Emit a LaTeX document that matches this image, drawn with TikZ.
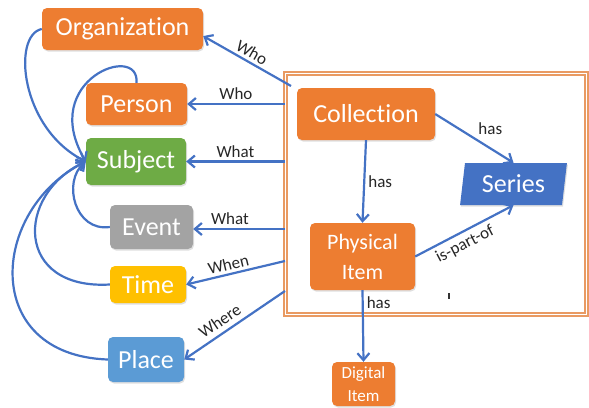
\documentclass[tikz,border=0pt]{standalone}
\usepackage{fontspec}
\setmainfont{Carlito}[Ligatures=NoCommon]
\usetikzlibrary{arrows.meta,shapes.geometric,shadows}

\definecolor{boxorange}{HTML}{ED7D31}
\definecolor{boxgreen}{HTML}{6EAB45}
\definecolor{boxgrey}{HTML}{A3A3A3}
\definecolor{boxyellow}{HTML}{FFC000}
\definecolor{boxblue}{HTML}{5B9BD5}
\definecolor{seriesblue}{HTML}{4472C4}
\definecolor{linkblue}{HTML}{4472C4}
\definecolor{frameorange}{HTML}{E99A62}

\begin{document}
\begin{tikzpicture}[x=1pt,y=-1pt,
  box/.style={rounded corners=5pt, text=white, inner sep=0pt, align=center,
    font=\fontsize{26}{30}\selectfont,
    drop shadow={opacity=0.25, shadow xshift=1pt, shadow yshift=-1.5pt}},
  link/.style={draw=linkblue, line width=2.2pt,
    -{Straight Barb[length=7pt,width=12pt]}},
  lbl/.style={font=\fontsize{17}{19}\selectfont, text=black!85, inner sep=3pt}]
\useasboundingbox (0,0) rectangle (589,407);

% frame around the collection part
\node[draw=frameorange, line width=1.6pt, double=white, double distance=1.2pt,
      minimum width=301pt, minimum height=241pt, inner sep=0pt] (frame) at (436,194) {};

% left-hand column
\node[box, fill=boxorange, minimum width=161pt, minimum height=42pt] (org) at (122.5,29) {Organization};
\node[box, fill=boxorange, minimum width=101pt, minimum height=42pt] (person) at (136.5,104) {Person};
\node[box, fill=boxgreen, minimum width=100pt, minimum height=47pt] (subject) at (136,161.5) {Subject};
\node[box, fill=boxgrey, minimum width=83pt, minimum height=44pt] (event) at (151.5,227) {Event};
\node[box, fill=boxyellow, minimum width=76pt, minimum height=37pt] (time) at (148,284.5) {Time};
\node[box, fill=boxblue, minimum width=76pt, minimum height=45pt] (place) at (146,359.5) {Place};

% collection part
\node[box, fill=boxorange, minimum width=138pt, minimum height=52pt] (collection) at (366,114) {Collection};
\node[box, rounded corners=0pt, fill=seriesblue, shape=trapezium, trapezium left angle=80,
      trapezium right angle=100, trapezium stretches=true,
      minimum width=107pt, minimum height=42pt] (series) at (513.5,184) {Series};
\node[box, fill=boxorange, minimum width=105pt, minimum height=67pt,
      font=\fontsize{22}{30}\selectfont] (physical) at (362.5,256.5) {Physical\\Item};
\node[box, fill=boxorange, minimum width=63pt, minimum height=44pt,
      font=\fontsize{17}{23}\selectfont] (digital) at (363.5,384) {Digital\\Item};

% links from the frame to the left-hand column
\coordinate (fOrg) at (291,86);
\draw[link] (fOrg) -- (org.-5) node[lbl, midway, above, sloped] {Who};
\draw[link] (frame.west |- person.east) -- (person.east) node[lbl, midway, above] {Who};
\draw[link] (frame.west |- subject.east) -- (subject.east) node[lbl, midway, above] {What};
\coordinate (fEvent) at (285,229);
\draw[link] (fEvent) -- (event.east |- fEvent) node[lbl, pos=0.6, above] {What};
\coordinate (fTime) at (285,261);
\draw[link] (fTime) -- (time.east) node[lbl, pos=0.55, above, sloped] {When};
\coordinate (fPlace) at (285,291);
\draw[link] (fPlace) -- (place.east) node[lbl, pos=0.58, above=2pt, sloped] {Where};

% links among the left-hand column
\draw[link] (org.west) .. controls (12,35) and (20,128) .. (subject.west);
\draw[link] (person.north) .. controls (140,42) and (38,80) .. (subject.west);
\draw[link] (event.west) .. controls (75,232) and (62,182) .. (subject.west);
\draw[link] (time.west) .. controls (15,290) and (15,195) .. (subject.west);
\draw[link] (place.west) .. controls (-20,355) and (-10,210) .. (subject.west);

% links inside the collection part
\draw[link] (collection.south) -- (physical.north) node[lbl, midway, right] {has};
\draw[link] (collection.east) -- (series.north) node[lbl, midway, above right] {has};
\draw[link] (physical.east) -- (series.south) node[lbl, pos=0.45, below=1pt, sloped] {is-part-of};
\draw[link] (physical.south) -- (digital.north) node[lbl, pos=0.18, right] {has};

% stray mark
\coordinate (tickA) at (449,293);
\coordinate (tickB) at (449,299);
\draw[line width=1.6pt, black!80] (tickA) -- (tickB);
\end{tikzpicture}
\end{document}
